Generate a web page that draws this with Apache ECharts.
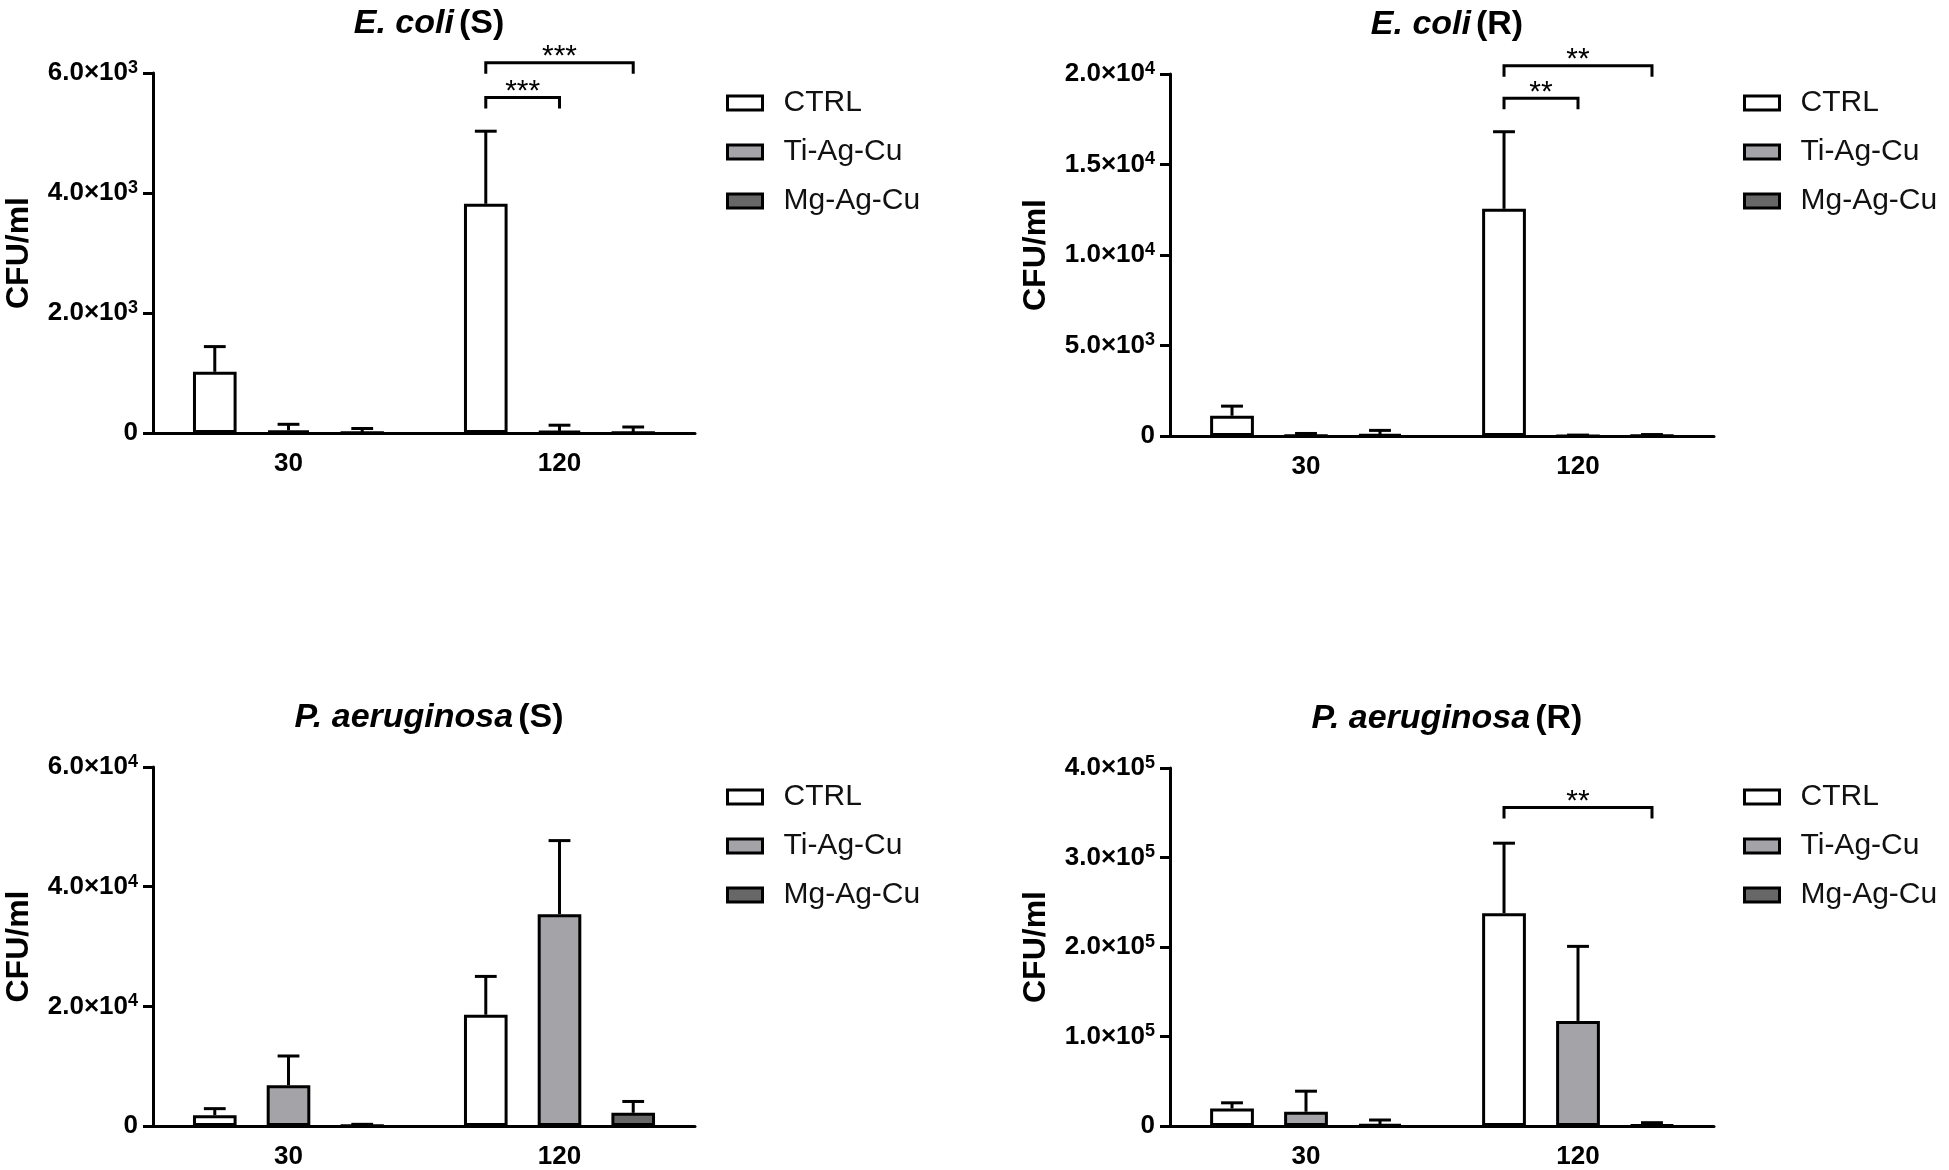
<!DOCTYPE html>
<html>
<head>
<meta charset="utf-8">
<title>CFU/ml</title>
<script src="https://cdn.jsdelivr.net/npm/echarts@6/dist/echarts.min.js"></script>
<style>
	html, body { margin: 0; padding: 0; background: #fff; }
	#main { width: 1949px; height: 1170px; }
</style>
</head>
<body>
<div id="main"></div>
<script>
/* 数据 */
var timeLabels = ['30', '120'];
var groupNames = ['CTRL', 'Ti-Ag-Cu', 'Mg-Ag-Cu'];

// E. coli (S)
var ecoliS_CTRL = [1020, 3820];
var ecoliS_CTRL_sd = [420, 1210];
var ecoliS_Ti = [45, 35];
var ecoliS_Ti_sd = [100, 95];
var ecoliS_Mg = [5, 5];
var ecoliS_Mg_sd = [70, 95];
var ecoliS_ticks = [0, 2000, 4000, 6000];
var ecoliS_sig = [[1, 0, 1, 5590, '***'], [1, 0, 2, 6170, '***']];

// E. coli (R)
var ecoliR_CTRL = [1120, 12550];
var ecoliR_CTRL_sd = [530, 4260];
var ecoliR_Ti = [20, 10];
var ecoliR_Ti_sd = [120, 40];
var ecoliR_Mg = [90, 20];
var ecoliR_Mg_sd = [220, 60];
var ecoliR_ticks = [0, 5000, 10000, 15000, 20000];
var ecoliR_sig = [[1, 0, 1, 18660, '**'], [1, 0, 2, 20460, '**']];

// P. aeruginosa (S)
var paerS_CTRL = [1800, 18600];
var paerS_CTRL_sd = [1100, 6400];
var paerS_Ti = [6800, 35400];
var paerS_Ti_sd = [4900, 12300];
var paerS_Mg = [60, 2200];
var paerS_Mg_sd = [220, 1900];
var paerS_ticks = [0, 20000, 40000, 60000];
var paerS_sig = [];

// P. aeruginosa (R)
var paerR_CTRL = [19600, 237800];
var paerR_CTRL_sd = [6300, 78200];
var paerR_Ti = [15900, 117400];
var paerR_Ti_sd = [23000, 83300];
var paerR_Mg = [1850, 1000];
var paerR_Mg_sd = [4850, 2700];
var paerR_ticks = [0, 100000, 200000, 300000, 400000];
var paerR_sig = [[1, 0, 2, 356000, '**']];

/* 样式 */
var FONT = 'Liberation Sans, Arial, Helvetica, sans-serif';
var barColors = ['#ffffff', '#a4a4a8', '#676767'];
var BAR_GAP = 0.69;
var CAT_GAP = 0.295;

var panels = [
	{ title: 'E. coli', tag: '(S)', grid: { left: 153, top: 73, width: 542, height: 360 }, legend: { left: 721, top: 83 },
		means: [ecoliS_CTRL, ecoliS_Ti, ecoliS_Mg], sds: [ecoliS_CTRL_sd, ecoliS_Ti_sd, ecoliS_Mg_sd], ticks: ecoliS_ticks, sig: ecoliS_sig },
	{ title: 'E. coli', tag: '(R)', grid: { left: 1170, top: 74, width: 544, height: 362 }, legend: { left: 1738, top: 83 },
		means: [ecoliR_CTRL, ecoliR_Ti, ecoliR_Mg], sds: [ecoliR_CTRL_sd, ecoliR_Ti_sd, ecoliR_Mg_sd], ticks: ecoliR_ticks, sig: ecoliR_sig },
	{ title: 'P. aeruginosa', tag: '(S)', grid: { left: 153, top: 767, width: 542, height: 360 }, legend: { left: 721, top: 777 },
		means: [paerS_CTRL, paerS_Ti, paerS_Mg], sds: [paerS_CTRL_sd, paerS_Ti_sd, paerS_Mg_sd], ticks: paerS_ticks, sig: paerS_sig },
	{ title: 'P. aeruginosa', tag: '(R)', grid: { left: 1170, top: 768, width: 544, height: 362 }, legend: { left: 1738, top: 777 },
		means: [paerR_CTRL, paerR_Ti, paerR_Mg], sds: [paerR_CTRL_sd, paerR_Ti_sd, paerR_Mg_sd], ticks: paerR_ticks, sig: paerR_sig }
];

// 6.0×10^3 形式的刻度
function sciLabel(v) {
	if (v === 0) return '{b|0}';
	var exp = Math.floor(Math.log10(v) + 1e-9);
	var mant = v / Math.pow(10, exp);
	return '{b|' + mant.toFixed(1) + '×10}{s|' + exp + '}';
}

function barOffset(api, k) {
	var band = api.size([1, 0])[0];
	var w = band * (1 - CAT_GAP) / (3 + 2 * BAR_GAP);
	return { w: w, dx: (k - 1) * w * (1 + BAR_GAP) };
}

var option = {
	animation: false,
	backgroundColor: '#fff',
	title: [],
	legend: [],
	grid: [],
	xAxis: [],
	yAxis: [],
	series: []
};

panels.forEach(function(p, i) {
	var g = p.grid;
	option.grid.push(g);

	option.title.push({
		text: '{i|' + p.title + '} {n|' + p.tag + '}',
		left: g.left + g.width / 2,
		top: g.top - 71,
		textAlign: 'center',
		textStyle: {
			rich: {
				i: { fontFamily: FONT, fontSize: 34, fontWeight: 'bold', fontStyle: 'italic', color: '#000' },
				n: { fontFamily: FONT, fontSize: 34, fontWeight: 'bold', color: '#000' }
			}
		}
	});

	option.legend.push({
		orient: 'vertical',
		left: p.legend.left,
		top: p.legend.top,
		itemWidth: 35,
		itemHeight: 14,
		itemGap: 19,
		icon: 'rect',
		data: groupNames,
		selectedMode: false,
		itemStyle: { borderColor: '#000', borderWidth: 3 },
		textStyle: { fontFamily: FONT, fontSize: 30, color: '#111', lineHeight: 30, padding: [0, 0, 0, 16] }
	});

	option.xAxis.push({
		type: 'category',
		gridIndex: i,
		data: timeLabels,
		axisLine: { lineStyle: { color: '#000', width: 3 } },
		axisTick: { alignWithLabel: true, length: 11, lineStyle: { color: '#000', width: 3 } },
		axisLabel: { fontFamily: FONT, fontSize: 26, fontWeight: 'bold', color: '#000', margin: 18 }
	});

	option.yAxis.push({
		type: 'value',
		gridIndex: i,
		min: p.ticks[0],
		max: p.ticks[p.ticks.length - 1],
		interval: p.ticks[1] - p.ticks[0],
		name: 'CFU/ml',
		nameLocation: 'middle',
		nameGap: 118,
		nameTextStyle: { fontFamily: FONT, fontSize: 32, fontWeight: 'bold', color: '#000' },
		splitLine: { show: false },
		axisLine: { show: true, lineStyle: { color: '#000', width: 3 } },
		axisTick: { show: true, length: 10, lineStyle: { color: '#000', width: 3 } },
		axisLabel: {
			margin: 15,
			formatter: sciLabel,
			rich: {
				b: { fontFamily: FONT, fontSize: 26, fontWeight: 'bold', color: '#000', lineHeight: 28 },
				s: { fontFamily: FONT, fontSize: 18, fontWeight: 'bold', color: '#000', lineHeight: 28, verticalAlign: 'top' }
			}
		}
	});

	// 柱子
	groupNames.forEach(function(name, k) {
		option.series.push({
			name: name,
			type: 'bar',
			xAxisIndex: i,
			yAxisIndex: i,
			data: p.means[k],
			barGap: (BAR_GAP * 100) + '%',
			barCategoryGap: (CAT_GAP * 100) + '%',
			itemStyle: { color: barColors[k], borderColor: '#000', borderWidth: 3 },
			z: 2
		});
	});

	// 误差线
	var errData = [];
	for (var k = 0; k < 3; k++) {
		for (var j = 0; j < timeLabels.length; j++) {
			errData.push([j, k, p.means[k][j], p.sds[k][j]]);
		}
	}
	option.series.push({
		type: 'custom',
		xAxisIndex: i,
		yAxisIndex: i,
		z: 3,
		data: errData,
		renderItem: function(params, api) {
			var cat = api.value(0), k = api.value(1), mean = api.value(2), sd = api.value(3);
			if (!sd) return;
			var o = barOffset(api, k);
			var cx = api.coord([cat, 0])[0] + o.dx;
			var y0 = api.coord([cat, mean])[1];
			var y1 = api.coord([cat, mean + sd])[1];
			var st = { stroke: '#000', lineWidth: 3 };
			return {
				type: 'group',
				children: [
					{ type: 'line', shape: { x1: cx, y1: y0, x2: cx, y2: y1 }, style: st },
					{ type: 'line', shape: { x1: cx - o.w / 4, y1: y1, x2: cx + o.w / 4, y2: y1 }, style: st }
				]
			};
		}
	});

	// 显著性标记
	if (p.sig.length) {
		option.series.push({
			type: 'custom',
			xAxisIndex: i,
			yAxisIndex: i,
			z: 4,
			data: p.sig.map(function(s) { return [s[0], s[1], s[2], s[3]]; }),
			renderItem: function(params, api) {
				var cat = api.value(0);
				var a = barOffset(api, api.value(1));
				var b = barOffset(api, api.value(2));
				var cx = api.coord([cat, 0])[0];
				var y = api.coord([cat, api.value(3)])[1];
				var x1 = cx + a.dx, x2 = cx + b.dx;
				return {
					type: 'group',
					children: [
						{ type: 'polyline', shape: { points: [[x1, y + 11], [x1, y], [x2, y], [x2, y + 11]] },
							style: { stroke: '#000', lineWidth: 3, fill: null } },
						{ type: 'text', x: (x1 + x2) / 2, y: y - 6,
							style: { text: p.sig[params.dataIndex][4], fontFamily: FONT, fontSize: 30, fill: '#000', align: 'center', verticalAlign: 'middle' } }
					]
				};
			}
		});
	}
});

var myChart = echarts.init(document.getElementById('main'));
myChart.setOption(option);
</script>
</body>
</html>
